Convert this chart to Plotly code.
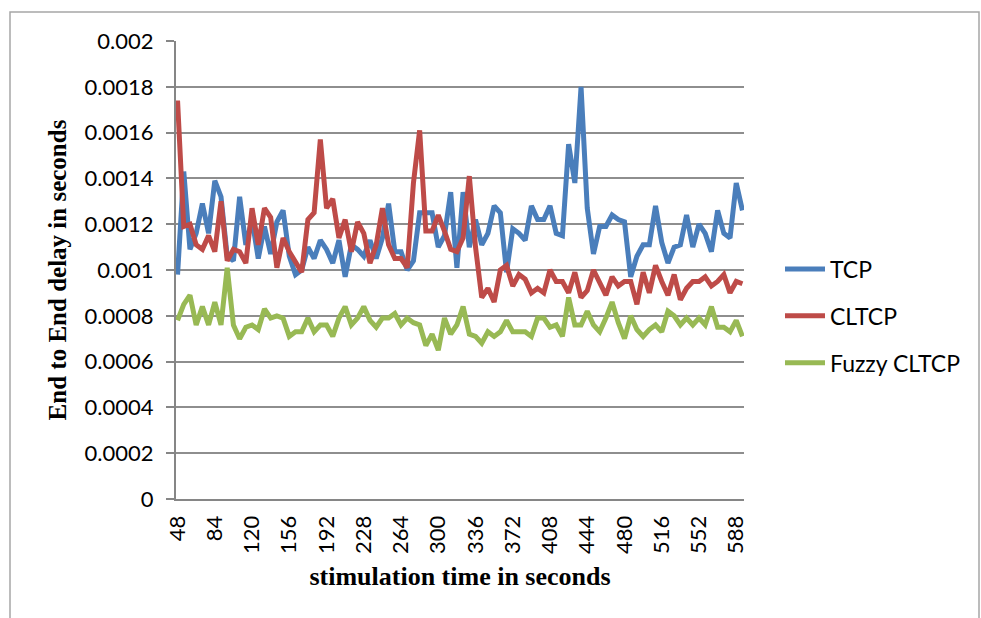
import plotly.graph_objects as go

time_s = list(range(48, 595, 6))

tcp = [0.00098, 0.00143, 0.00109, 0.00116, 0.00129, 0.00116, 0.00139, 0.00132, 0.00106, 0.00104,
       0.00132, 0.00111, 0.00122, 0.00105, 0.00119, 0.00107, 0.00121, 0.00126, 0.00106, 0.00098,
       0.00100, 0.00110, 0.00105, 0.00113, 0.00109, 0.00103, 0.00113, 0.00097, 0.00111, 0.00109,
       0.00106, 0.00113, 0.00105, 0.00114, 0.00129, 0.00108, 0.00108, 0.00100, 0.00104, 0.00125,
       0.00125, 0.00125, 0.00110, 0.00115, 0.00134, 0.00101, 0.00134, 0.00110, 0.00122, 0.00111,
       0.00116, 0.00128, 0.00125, 0.00099, 0.00118, 0.00116, 0.00113, 0.00128, 0.00122, 0.00122,
       0.00128, 0.00116, 0.00115, 0.00155, 0.00138, 0.00180, 0.00127, 0.00107, 0.00119, 0.00119,
       0.00124, 0.00122, 0.00121, 0.00097, 0.00106, 0.00111, 0.00111, 0.00128, 0.00112, 0.00103,
       0.00110, 0.00111, 0.00124, 0.00110, 0.00120, 0.00116, 0.00108, 0.00126, 0.00116, 0.00114,
       0.00138, 0.00126]

cltcp = [0.00174, 0.00119, 0.00120, 0.00111, 0.00109, 0.00115, 0.00108, 0.00130, 0.00104, 0.00109,
         0.00108, 0.00103, 0.00127, 0.00111, 0.00127, 0.00123, 0.00101, 0.00114, 0.00108, 0.00103,
         0.00099, 0.00122, 0.00125, 0.00157, 0.00127, 0.00131, 0.00114, 0.00122, 0.00108, 0.00121,
         0.00116, 0.00103, 0.00111, 0.00127, 0.00111, 0.00105, 0.00105, 0.00101, 0.00138, 0.00161,
         0.00117, 0.00117, 0.00124, 0.00117, 0.00109, 0.00108, 0.00114, 0.00141, 0.00110, 0.00088,
         0.00092, 0.00086, 0.00100, 0.00102, 0.00093, 0.00098, 0.00096, 0.00090, 0.00092, 0.00090,
         0.00100, 0.00095, 0.00095, 0.00090, 0.00099, 0.00088, 0.00091, 0.00100, 0.00095, 0.00089,
         0.00097, 0.00093, 0.00095, 0.00095, 0.00085, 0.00099, 0.00090, 0.00102, 0.00095, 0.00089,
         0.00098, 0.00087, 0.00092, 0.00095, 0.00095, 0.00097, 0.00093, 0.00095, 0.00098, 0.00090,
         0.00095, 0.00094]

fuzzy_cltcp = [0.00078, 0.00085, 0.00089, 0.00076, 0.00084, 0.00076, 0.00086, 0.00076, 0.00101, 0.00076,
               0.00070, 0.00075, 0.00076, 0.00074, 0.00083, 0.00079, 0.00080, 0.00079, 0.00071, 0.00073,
               0.00073, 0.00079, 0.00073, 0.00076, 0.00076, 0.00071, 0.00079, 0.00084, 0.00076, 0.00079,
               0.00084, 0.00078, 0.00075, 0.00079, 0.00079, 0.00081, 0.00076, 0.00079, 0.00077, 0.00076,
               0.00067, 0.00072, 0.00065, 0.00079, 0.00072, 0.00076, 0.00084, 0.00072, 0.00071, 0.00068,
               0.00073, 0.00071, 0.00073, 0.00078, 0.00073, 0.00073, 0.00073, 0.00071, 0.00079, 0.00079,
               0.00075, 0.00076, 0.00071, 0.00088, 0.00076, 0.00076, 0.00082, 0.00076, 0.00073, 0.00079,
               0.00086, 0.00077, 0.00070, 0.00080, 0.00074, 0.00071, 0.00074, 0.00076, 0.00073, 0.00082,
               0.00080, 0.00076, 0.00079, 0.00076, 0.00079, 0.00076, 0.00084, 0.00075, 0.00075, 0.00073,
               0.00078, 0.00071]

series_names = ["TCP", "CLTCP", "Fuzzy CLTCP"]
series_colors = ["#4A7EBB", "#BE4B48", "#98B954"]

x_tick_vals = list(range(48, 589, 36))
y_tick_vals = [0, 0.0002, 0.0004, 0.0006, 0.0008, 0.001, 0.0012, 0.0014, 0.0016, 0.0018, 0.002]
y_tick_text = ["0", "0.0002", "0.0004", "0.0006", "0.0008", "0.001", "0.0012", "0.0014",
               "0.0016", "0.0018", "0.002"]

fig = go.Figure()
for name, vals, col in zip(series_names, [tcp, cltcp, fuzzy_cltcp], series_colors):
    fig.add_trace(go.Scatter(x=time_s, y=vals, mode="lines", name=name, legendgroup=name,
                             line=dict(color=col, width=5)))

tick_font = dict(family="Lato, Open Sans, sans-serif", size=22, color="#000000")

L, R, T, B = 176, 237, 41, 119
W, H = 981, 618
pw, ph = W - L - R, H - T - B

fig.update_layout(
    width=W, height=H,
    margin=dict(l=L, r=R, t=T, b=B, pad=0),
    paper_bgcolor="white", plot_bgcolor="white",
    showlegend=True,
    legend=dict(x=(780 - L) / pw, xanchor="left", y=(499 - 316) / ph, yanchor="middle",
                font=dict(family="Lato, Open Sans, sans-serif", size=23, color="#000000"),
                itemwidth=40, tracegroupgap=14, bgcolor="rgba(0,0,0,0)"),
    xaxis=dict(range=[46.5, 595.5], tickvals=x_tick_vals, tickangle=-90, tickfont=tick_font,
               showgrid=False, zeroline=False, showline=True, linecolor="#868686", linewidth=2,
               ticks="", ticklen=0, ticklabelstandoff=6,
               title=dict(text="<b>stimulation time in seconds</b>",
                          font=dict(family="Liberation Serif, Times New Roman, serif", size=26,
                                    color="#000000"), standoff=14)),
    yaxis=dict(range=[0, 0.002], tickvals=y_tick_vals, ticktext=y_tick_text, tickfont=tick_font,
               showgrid=True, gridcolor="#8e8e8e", gridwidth=1.5, zeroline=False,
               showline=True, linecolor="#868686", linewidth=2,
               ticks="outside", ticklen=8, tickcolor="#868686", tickwidth=1.5,
               ticklabelstandoff=8,
               title=dict(text="<b>End to End delay in seconds</b>",
                          font=dict(family="Liberation Serif, Times New Roman, serif", size=25,
                                    color="#000000"), standoff=11)),
)

# outer chart frame
fig.add_shape(type="rect", xref="paper", yref="paper",
              x0=(10 - L) / pw, x1=(979 - L) / pw, y0=(499 - 640) / ph, y1=(499 - 12) / ph,
              line=dict(color="#a6a6a6", width=1.5), fillcolor="rgba(0,0,0,0)", layer="below")

fig.write_html("out.html")
